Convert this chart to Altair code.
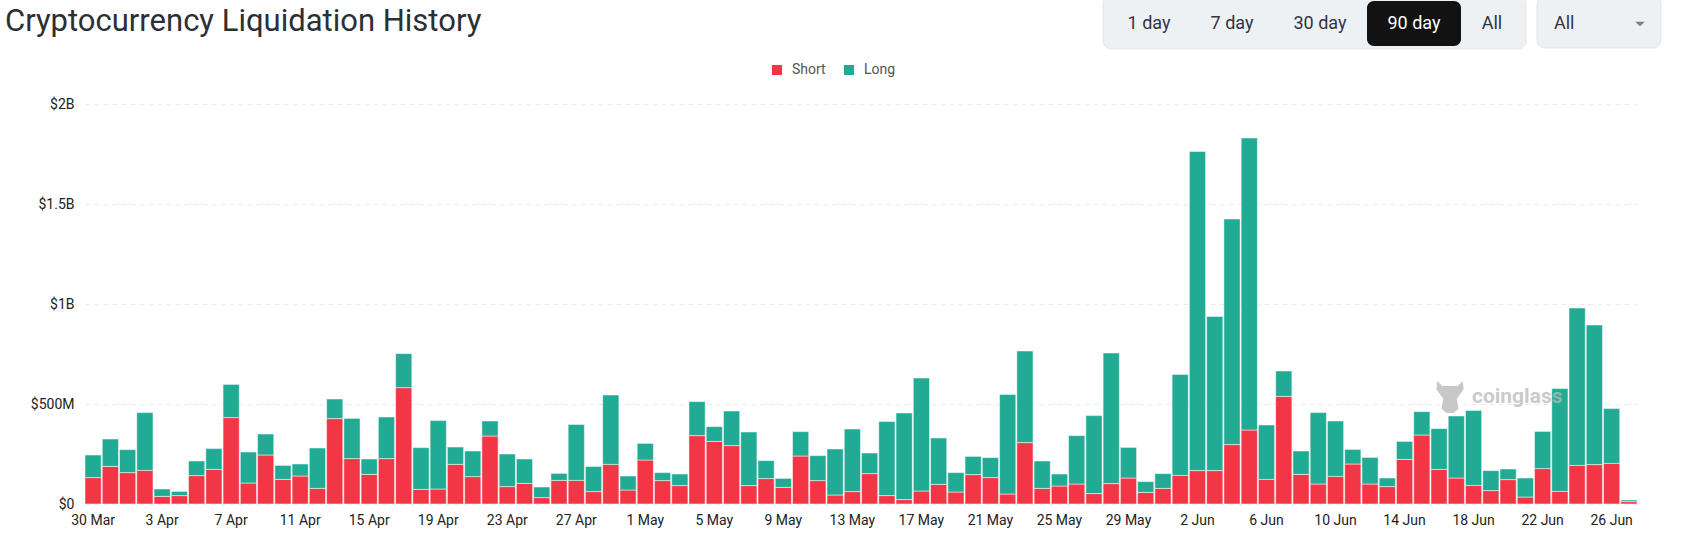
import altair as alt
import pandas as pd

# Daily liquidations in millions of USD, 30 Mar – 27 Jun
short_m = [
    132, 188, 157, 168, 38, 42, 142, 173, 432, 105,
    245, 123, 140, 78, 427, 227, 148, 227, 582, 73,
    75, 198, 137, 340, 87, 103, 32, 118, 118, 62,
    198, 70, 220, 117, 92, 342, 313, 292, 92, 127,
    83, 240, 117, 45, 62, 152, 42, 22, 65, 98,
    60, 147, 132, 50, 307, 78, 90, 100, 52, 102,
    130, 58, 78, 143, 167, 167, 297, 370, 123, 538,
    148, 100, 138, 200, 100, 87, 223, 345, 173, 130,
    93, 67, 122, 35, 177, 63, 193, 197, 203, 12,
]
long_m = [
    113, 137, 115, 289, 37, 21, 73, 104, 166, 155,
    105, 70, 60, 202, 98, 201, 77, 208, 170, 209,
    342, 87, 128, 75, 163, 122, 53, 35, 280, 126,
    347, 70, 83, 40, 58, 170, 74, 173, 268, 90,
    45, 122, 125, 230, 313, 103, 371, 433, 565, 232,
    97, 91, 100, 498, 458, 137, 60, 242, 390, 653,
    153, 54, 74, 505, 1596, 771, 1128, 1460, 272, 127,
    117, 357, 277, 73, 133, 43, 90, 117, 204, 310,
    375, 100, 53, 95, 186, 514, 787, 698, 274, 8,
]
days = pd.date_range("2025-03-30", periods=len(short_m), freq="D")
day_labels = [f"{d.day} {d:%b}" for d in days]

series = ["Short", "Long"]
colors = ["#F23645", "#22AB94"]
y_ticks = [0, 500, 1000, 1500, 2000]
periods = ["1 day", "7 day", "30 day", "90 day", "All"]

rows = []
for i, lab in enumerate(day_labels):
    rows.append({"day": lab, "side": "Short", "ord": 0, "value": short_m[i]})
    rows.append({"day": lab, "side": "Long", "ord": 1, "value": long_m[i]})
df = pd.DataFrame(rows)

FONT = "Roboto"

bars = alt.Chart(df).mark_bar(stroke="white", strokeWidth=0.5).encode(
    x=alt.X(
        "day:O",
        sort=day_labels,
        scale=alt.Scale(paddingInner=0.06, paddingOuter=0),
        axis=alt.Axis(
            values=day_labels[::4], labelAngle=0, ticks=False, domain=False,
            title=None, labelFontSize=14, labelPadding=9, labelColor="#222",
            labelFont=FONT,
        ),
    ),
    y=alt.Y(
        "value:Q",
        stack="zero",
        scale=alt.Scale(domain=[0, 2000], nice=False),
        axis=alt.Axis(
            values=y_ticks, title=None, domain=False, ticks=False,
            gridDash=[5, 4], gridColor="#e8eaee", labelFontSize=14,
            labelPadding=11, labelColor="#222", labelFont=FONT,
            labelExpr="datum.value == 0 ? '$0' : datum.value >= 1000 ? '$' + datum.value / 1000 + 'B' : '$' + datum.value + 'M'",
        ),
    ),
    color=alt.Color(
        "side:N",
        scale=alt.Scale(domain=series, range=colors),
        legend=alt.Legend(
            title=None, orient="none", legendX=685, legendY=-41,
            direction="horizontal", symbolType="square", symbolSize=100,
            symbolStrokeWidth=0, labelFontSize=14, labelColor="#555",
            labelFont=FONT, columnPadding=16, labelOffset=8,
        ),
    ),
    order=alt.Order("ord:Q"),
)

one = alt.Data(values=[{}])

title = alt.Chart(one).mark_text(
    text="Cryptocurrency Liquidation History", font=FONT, fontSize=31,
    color="#2b2f36", align="left", baseline="alphabetic",
).encode(x=alt.value(-80), y=alt.value(-73))

# period selector
button_bg = alt.Chart(one).mark_rect(
    fill="#eef1f4", cornerRadius=8, stroke="#e1e5e9", strokeWidth=1
).encode(x=alt.value(1018), x2=alt.value(1441), y=alt.value(-108), y2=alt.value(-55))
active_bg = alt.Chart(one).mark_rect(fill="#121212", cornerRadius=7).encode(
    x=alt.value(1282), x2=alt.value(1376), y=alt.value(-103), y2=alt.value(-58)
)
select_bg = alt.Chart(one).mark_rect(
    fill="#eef1f4", cornerRadius=8, stroke="#e1e5e9", strokeWidth=1
).encode(x=alt.value(1452), x2=alt.value(1576), y=alt.value(-108), y2=alt.value(-56))

button_centers = [1064, 1147, 1235, 1329, 1407]
button_layers = []
for lab, cx in zip(periods, button_centers):
    button_layers.append(
        alt.Chart(one).mark_text(
            text=lab, font=FONT, fontSize=18,
            color="#ffffff" if lab == "90 day" else "#2f3540",
            align="center", baseline="middle",
        ).encode(x=alt.value(cx), y=alt.value(-80))
    )
select_text = alt.Chart(one).mark_text(
    text="All", font=FONT, fontSize=18, color="#2f3540", align="left", baseline="middle"
).encode(x=alt.value(1469), y=alt.value(-80))
caret = alt.Chart(one).mark_point(
    shape="M-1,-0.5 L1,-0.5 L0,0.5 Z", filled=True, size=90, color="#7a7f87", opacity=1
).encode(x=alt.value(1555), y=alt.value(-80))

# watermark
wm_text = alt.Chart(one).mark_text(
    text="coinglass", font=FONT, fontSize=21, fontWeight="bold",
    color="#b9b9b9", opacity=0.75, align="left", baseline="middle",
).encode(x=alt.value(1387), y=alt.value(293))
mascot = alt.Chart(one).mark_point(
    shape="M-0.75,-0.95 L-0.45,-0.65 L0.45,-0.65 L0.75,-0.95 L0.8,-0.45 L0.55,-0.1 L0.4,0.1 L0.5,0.7 L0.2,0.95 L-0.2,0.95 L-0.5,0.7 L-0.4,0.1 L-0.55,-0.1 L-0.8,-0.45 Z",
    filled=True, size=1150, color="#bdbdbd", opacity=0.85,
).encode(x=alt.value(1365), y=alt.value(293))

chart = alt.layer(
    bars, title, button_bg, active_bg, select_bg, *button_layers,
    select_text, caret, wm_text, mascot,
).properties(
    width=1552, height=400,
    autosize=alt.AutoSizeParams(type="none"),
    padding={"left": 85, "top": 104, "right": 45, "bottom": 38},
    background="white",
).configure_view(stroke=None)

chart.save("out.html", embed_options={"renderer": "svg", "actions": False})
